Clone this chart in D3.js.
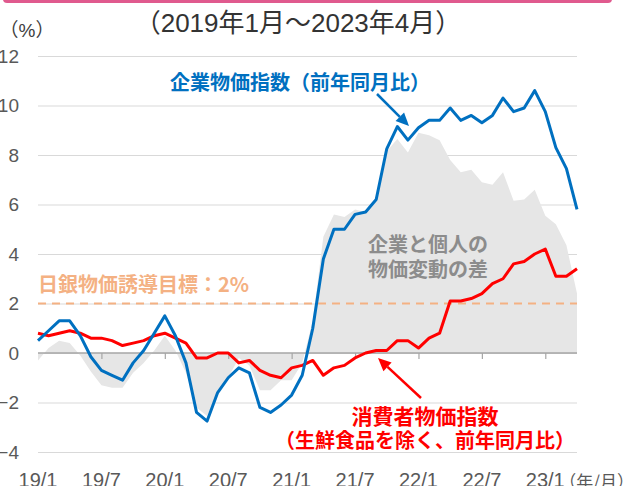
<!DOCTYPE html>
<html>
<head>
<meta charset="utf-8">
<script src="https://cdn.jsdelivr.net/npm/d3@7"></script>
<style>
  html, body { margin: 0; padding: 0; background: #fff; overflow: hidden; }
  svg { display: block; }
  text { font-family: "Liberation Sans", "Noto Sans CJK JP", sans-serif; }
  .jp { font-family: "Noto Sans CJK JP", sans-serif; font-weight: 700; }
</style>
</head>
<body>
<div id="chart"></div>
<script>
// months 2019/1 .. 2023/4
const months = d3.range(52).map(i => `${19 + Math.floor(i / 12)}/${(i % 12) + 1}`);

// 企業物価指数（前年同月比）
const cgpi = [
  0.5, 0.9, 1.3, 1.3, 0.7, -0.15, -0.7, -0.9, -1.1, -0.4, 0.1, 0.8,
  1.5, 0.7, -0.4, -2.4, -2.75, -1.6, -1.0, -0.6, -0.8, -2.2, -2.4, -2.1,
  -1.7, -0.9, 1.0, 3.8, 5.0, 5.0, 5.6, 5.7, 6.2, 8.25, 9.15, 8.6,
  9.1, 9.4, 9.4, 9.9, 9.4, 9.6, 9.3, 9.6, 10.3, 9.75, 9.9, 10.6,
  9.75, 8.3, 7.45, 5.8
];

// 消費者物価指数（生鮮食品を除く、前年同月比）
const cpi = [
  0.8, 0.7, 0.8, 0.9, 0.8, 0.6, 0.6, 0.5, 0.3, 0.4, 0.5, 0.7,
  0.8, 0.6, 0.4, -0.2, -0.2, 0.0, 0.0, -0.4, -0.3, -0.7, -0.9, -1.0,
  -0.6, -0.5, -0.3, -0.9, -0.6, -0.5, -0.2, 0.0, 0.1, 0.1, 0.5, 0.5,
  0.2, 0.6, 0.8, 2.1, 2.1, 2.2, 2.4, 2.8, 3.0, 3.6, 3.7, 4.0,
  4.2, 3.1, 3.1, 3.4
];

const xTickLabels = ["19/1", "19/7", "20/1", "20/7", "21/1", "21/7", "22/1", "22/7", "23/1"];
const yTicks = [-4, -2, 0, 2, 4, 6, 8, 10, 12];
const target = 2;

const W = 635, H = 486;
const svg = d3.select("#chart").append("svg")
  .attr("width", W)
  .attr("height", H);

// pink frame edge at the top
svg.append("rect")
  .attr("x", 3).attr("y", -12)
  .attr("width", 609).attr("height", 15)
  .attr("rx", 4)
  .attr("fill", "#e05a8e");

const x = d3.scaleLinear().domain([0, months.length - 1]).range([38, 577]);
const y = d3.scaleLinear().domain([-4, 12]).range([452, 56]);

// grid + y labels
const yAxis = svg.append("g")
  .attr("transform", "translate(38,0)")
  .call(d3.axisLeft(y).tickValues(yTicks).tickSize(-(577 - 38)).tickPadding(19).tickFormat(d3.format("d")));
yAxis.select(".domain").remove();
yAxis.selectAll("line").attr("stroke", "#d9d9d9").attr("stroke-width", 1.2);
yAxis.selectAll("text")
  .attr("font-size", "19px")
  .attr("fill", "#595959")
  .attr("font-family", "Liberation Sans, sans-serif");

// difference area
const diff = cgpi.map((v, i) => v - cpi[i]);
svg.append("path")
  .datum(diff)
  .attr("fill", "#e6e6e6")
  .attr("d", d3.area()
    .x((d, i) => x(i))
    .y0(y(0))
    .y1(d => y(d)));

// zero axis with ticks
const xAxis = svg.append("g")
  .attr("transform", `translate(0,${y(0)})`)
  .call(d3.axisBottom(x).tickValues(d3.range(0, 52, 6)).tickSize(6).tickFormat(""));
xAxis.select(".domain").attr("stroke", "#a6a6a6").attr("stroke-width", 1.5)
  .attr("d", `M38,0H577`);
xAxis.selectAll("line").attr("stroke", "#a6a6a6").attr("stroke-width", 1.2);
xAxis.selectAll(".tick").filter(d => d === 0).remove();

// x labels
svg.append("g")
  .selectAll("text")
  .data(xTickLabels)
  .enter()
  .append("text")
  .attr("x", (d, i) => x(i * 6))
  .attr("y", 480)
  .attr("text-anchor", "middle")
  .attr("dominant-baseline", "central")
  .attr("font-size", "20px")
  .attr("fill", "#595959")
  .text(d => d);

svg.append("text")
  .attr("class", "jp")
  .style("font-weight", 400)
  .attr("x", 634).attr("y", 480)
  .attr("text-anchor", "end")
  .attr("dominant-baseline", "central")
  .attr("font-size", "17px")
  .attr("fill", "#595959")
  .text("（年/月）");

// BOJ target line
svg.append("line")
  .attr("x1", x(0)).attr("x2", x(months.length - 1))
  .attr("y1", y(target)).attr("y2", y(target))
  .attr("stroke", "#f4b183")
  .attr("stroke-width", 2)
  .attr("stroke-dasharray", "8,6");

svg.append("text")
  .attr("class", "jp")
  .attr("x", 38).attr("y", 283)
  .attr("dominant-baseline", "central")
  .attr("font-size", "20px")
  .attr("fill", "#f4b183")
  .text("日銀物価誘導目標：2%");

// lines
const line = d3.line().x((d, i) => x(i)).y(d => y(d));
svg.append("path")
  .datum(cpi)
  .attr("fill", "none")
  .attr("stroke", "#ff0000")
  .attr("stroke-width", 3)
  .attr("stroke-linejoin", "round")
  .attr("d", line);
svg.append("path")
  .datum(cgpi)
  .attr("fill", "none")
  .attr("stroke", "#0070c0")
  .attr("stroke-width", 3)
  .attr("stroke-linejoin", "round")
  .attr("d", line);

// titles
svg.append("text")
  .attr("x", 298).attr("y", 23)
  .attr("text-anchor", "middle")
  .attr("dominant-baseline", "central")
  .attr("font-size", "26px")
  .attr("fill", "#333333")
  .text("（2019年1月～2023年4月）");

svg.append("text")
  .attr("x", 27).attr("y", 30)
  .attr("text-anchor", "middle")
  .attr("dominant-baseline", "central")
  .attr("font-size", "19px")
  .attr("fill", "#404040")
  .text("（%）");

// annotations
function arrow(x1, y1, x2, y2, color) {
  const a = Math.atan2(y2 - y1, x2 - x1);
  const len = 13, wid = 6;
  const bx = x2 - len * Math.cos(a), by = y2 - len * Math.sin(a);
  svg.append("line")
    .attr("x1", x1).attr("y1", y1).attr("x2", bx).attr("y2", by)
    .attr("stroke", color).attr("stroke-width", 2.5);
  svg.append("path")
    .attr("fill", color)
    .attr("d", `M${x2},${y2}L${bx - wid * Math.sin(a)},${by + wid * Math.cos(a)}L${bx + wid * Math.sin(a)},${by - wid * Math.cos(a)}Z`);
}

svg.append("text")
  .attr("class", "jp")
  .attr("x", 300).attr("y", 81)
  .attr("text-anchor", "middle")
  .attr("dominant-baseline", "central")
  .attr("font-size", "20px")
  .attr("fill", "#0070c0")
  .text("企業物価指数（前年同月比）");
arrow(377, 94, 409, 126, "#0070c0");

const grayLabel = svg.append("text")
  .attr("class", "jp")
  .attr("text-anchor", "middle")
  .attr("font-size", "20px")
  .attr("fill", "#8c8c8c");
grayLabel.append("tspan").attr("x", 428).attr("y", 252).text("企業と個人の");
grayLabel.append("tspan").attr("x", 428).attr("y", 277).text("物価変動の差");

const redLabel = svg.append("text")
  .attr("class", "jp")
  .attr("text-anchor", "middle")
  .attr("fill", "#ff0000");
redLabel.append("tspan").attr("x", 425).attr("y", 424).attr("font-size", "21px").text("消費者物価指数");
redLabel.append("tspan").attr("x", 425).attr("y", 448).attr("font-size", "20px").text("（生鮮食品を除く、前年同月比）");
arrow(421, 398, 378, 358, "#ff0000");
</script>
</body>
</html>
